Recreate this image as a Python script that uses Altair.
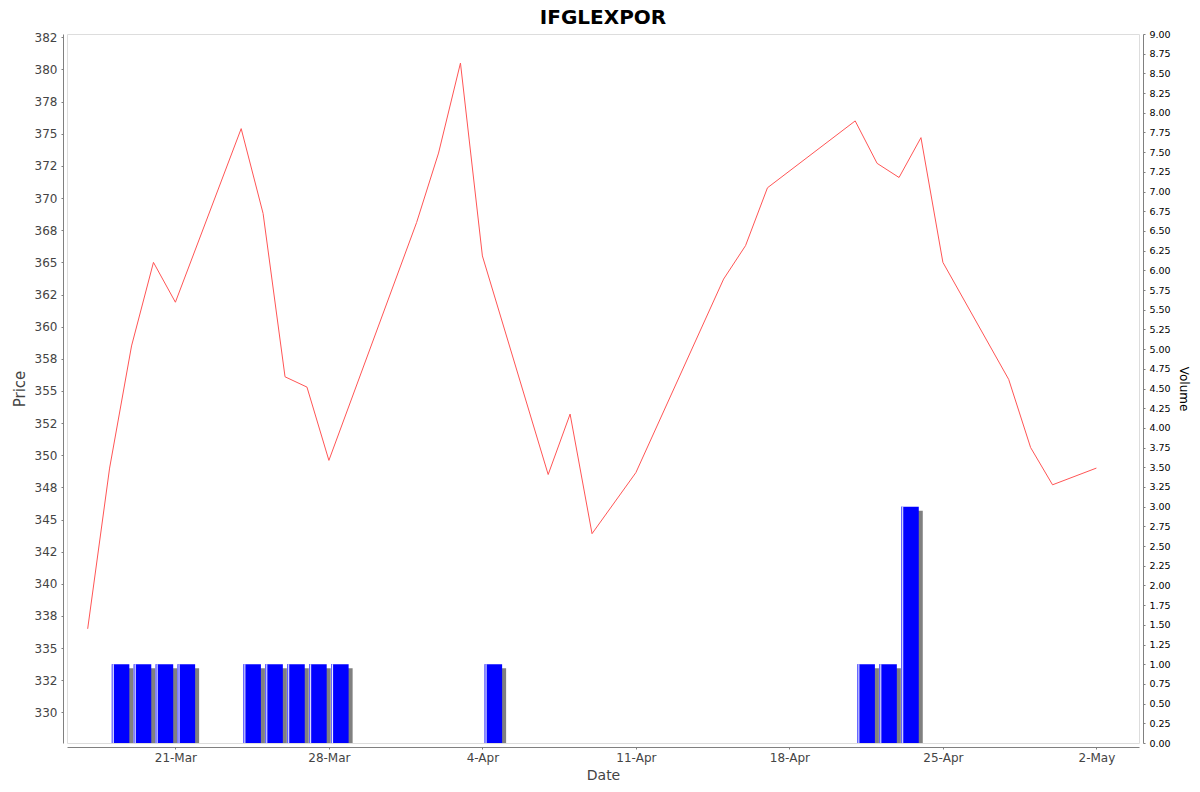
import altair as alt
import pandas as pd

# ---- data ----
price_dates = [
    "2024-03-17", "2024-03-18", "2024-03-19", "2024-03-20", "2024-03-21",
    "2024-03-24", "2024-03-25", "2024-03-26", "2024-03-27", "2024-03-28",
    "2024-04-01", "2024-04-02", "2024-04-03", "2024-04-04", "2024-04-07",
    "2024-04-08", "2024-04-09", "2024-04-11", "2024-04-15", "2024-04-16",
    "2024-04-17", "2024-04-21", "2024-04-22", "2024-04-23", "2024-04-24",
    "2024-04-25", "2024-04-28", "2024-04-29", "2024-04-30", "2024-05-02",
]
prices = [
    336.5, 349.0, 358.5, 365.0, 361.9,
    375.4, 368.8, 356.1, 355.3, 349.6,
    368.1, 373.5, 380.5, 365.5, 348.5,
    353.2, 343.9, 348.65, 363.7, 366.3,
    370.8, 376.0, 372.7, 371.6, 374.7,
    365.0, 355.9, 350.6, 347.7, 349.0,
]
volume_dates = [
    "2024-03-18", "2024-03-19", "2024-03-20", "2024-03-21",
    "2024-03-24", "2024-03-25", "2024-03-26", "2024-03-27", "2024-03-28",
    "2024-04-04", "2024-04-21", "2024-04-22", "2024-04-23",
]
volumes = [1, 1, 1, 1, 1, 1, 1, 1, 1, 1, 1, 1, 3]

price_ticks = [330 + 2.5 * i for i in range(22)]
volume_ticks = [0.25 * i for i in range(37)]
date_ticks = [(3, 21), (3, 28), (4, 4), (4, 11), (4, 18), (4, 25), (5, 2)]

price_df = pd.DataFrame({"date": [d + "T00:00:00" for d in price_dates], "price": prices})
vol_df = pd.DataFrame({"date": [d + "T00:00:00" for d in volume_dates], "volume": volumes})

FONT = "DejaVu Sans"
GRAY = "#808080"
LABEL = "#444444"

x_scale = alt.Scale(
    domain=[
        alt.DateTime(year=2024, month=3, date=16, hours=1, minutes=22),
        alt.DateTime(year=2024, month=5, date=3, hours=22, minutes=38),
    ]
)
vol_scale = alt.Scale(domain=[0, 9], nice=False, zero=True)
price_scale = alt.Scale(domain=[327.62, 382.76], nice=False, zero=False)

x_axis = alt.Axis(
    title="Date",
    values=[alt.DateTime(year=2024, month=m, date=d) for m, d in date_ticks],
    format="%-d-%b",
    grid=False,
    offset=4,
    tickSize=2,
    tickColor=GRAY,
    domainColor=GRAY,
    labelColor=LABEL,
    labelFont=FONT,
    labelFontSize=12,
    labelPadding=3,
    titleFont=FONT,
    titleFontSize=14,
    titleFontWeight="normal",
    titleColor=LABEL,
    titlePadding=5,
)

vol_axis = alt.Axis(
    orient="right",
    title="Volume",
    values=volume_ticks,
    format=".2f",
    grid=False,
    offset=4,
    tickSize=2,
    tickColor=GRAY,
    domainColor=GRAY,
    labelColor="#000000",
    labelFont=FONT,
    labelFontSize=9.5,
    labelPadding=4,
    titleFont=FONT,
    titleFontSize=12,
    titleFontWeight="normal",
    titleColor="#000000",
    titlePadding=6,
)

price_axis = alt.Axis(
    orient="left",
    title="Price",
    values=price_ticks,
    labelExpr="floor(datum.value) % 2 == 0 ? format(floor(datum.value), 'd') : format(ceil(datum.value), 'd')",
    grid=False,
    offset=4,
    tickSize=2,
    tickColor=GRAY,
    domainColor=GRAY,
    labelColor=LABEL,
    labelFont=FONT,
    labelFontSize=12,
    labelPadding=4,
    titleFont=FONT,
    titleFontSize=15,
    titleFontWeight="normal",
    titleColor=LABEL,
    titlePadding=7,
)

bars_base = alt.Chart(vol_df).transform_calculate(
    x_start="time(toDate(datum.date)) + 8640000",
    x_end="time(toDate(datum.date)) + 77760000",
)

shadow = bars_base.mark_bar(color=GRAY, xOffset=4, x2Offset=4, yOffset=4).encode(
    x=alt.X("x_start:T", scale=x_scale, axis=x_axis),
    x2="x_end:T",
    y=alt.Y("volume:Q", scale=vol_scale, axis=vol_axis),
    y2=alt.datum(0),
)

blue = bars_base.mark_bar(color="#0000FF").encode(
    x=alt.X("x_start:T", scale=x_scale, axis=x_axis),
    x2="x_end:T",
    y=alt.Y("volume:Q", scale=vol_scale, axis=vol_axis),
    y2=alt.datum(0),
)

edge = bars_base.mark_rule(color="#6E6EFF", strokeWidth=1, xOffset=0.5).encode(
    x=alt.X("x_start:T", scale=x_scale, axis=x_axis),
    y=alt.Y("volume:Q", scale=vol_scale, axis=vol_axis),
    y2=alt.datum(0),
)

white = bars_base.mark_rule(color="#FFFFFF", strokeWidth=1, xOffset=1.5).encode(
    x=alt.X("x_start:T", scale=x_scale, axis=x_axis),
    y=alt.Y("volume:Q", scale=vol_scale, axis=vol_axis),
    y2=alt.datum(0),
)

volume_layer = alt.layer(shadow, blue, edge, white)

line = alt.Chart(price_df).mark_line(color="#FF5555", strokeWidth=1).encode(
    x=alt.X("date:T", scale=x_scale, axis=x_axis),
    y=alt.Y("price:Q", scale=price_scale, axis=price_axis),
)

chart = (
    alt.layer(volume_layer, line)
    .resolve_scale(y="independent")
    .properties(
        width=1072,
        height=709,
        title=alt.TitleParams(
            "IFGLEXPOR",
            font=FONT,
            fontSize=20,
            fontWeight="bold",
            color="#000000",
            anchor="middle",
            offset=1,
        ),
        autosize=alt.AutoSizeParams(type="none"),
        padding={"left": 59, "top": 26, "right": 53, "bottom": 41},
    )
    .configure_view(stroke=GRAY, strokeWidth=1)
    .configure(background="#FFFFFF")
)

chart.save("out.html", embed_options={"renderer": "svg", "actions": False})
